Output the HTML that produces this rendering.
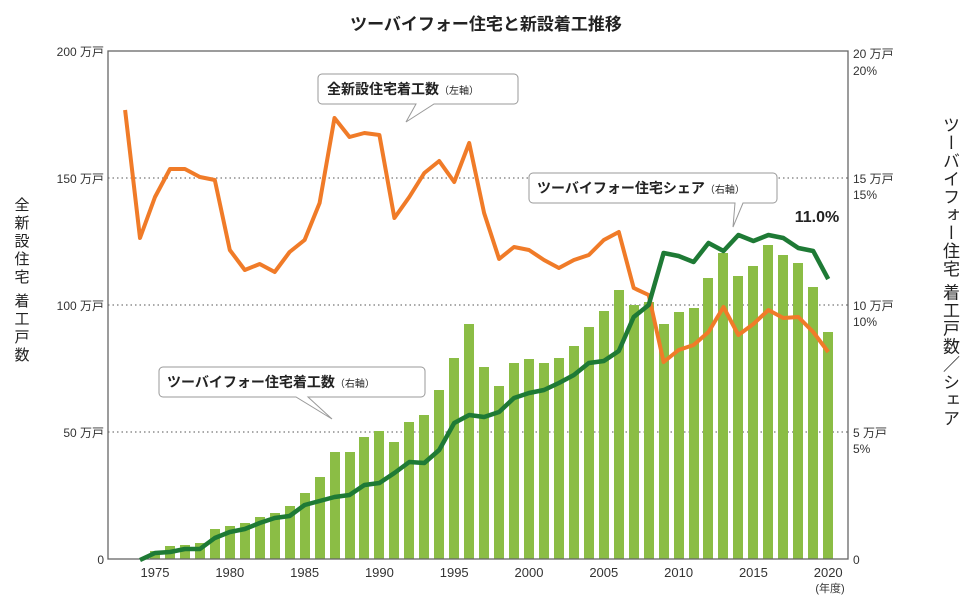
<!DOCTYPE html>
<html><head><meta charset="utf-8"><style>
html,body{margin:0;padding:0;background:#fff;}
body{position:relative;width:972px;height:598px;overflow:hidden;}
svg{display:block;font-family:"Liberation Sans","Noto Sans CJK JP",sans-serif;}
.vr{position:absolute;left:939px;top:116px;writing-mode:vertical-rl;font-family:"Liberation Sans","Noto Sans CJK JP",sans-serif;font-size:17px;color:#222;letter-spacing:1px;line-height:20px;}
</style></head><body>
<svg width="972" height="598" viewBox="0 0 972 598" xmlns="http://www.w3.org/2000/svg">
<text x="486" y="30" text-anchor="middle" font-size="17" font-weight="bold" fill="#222">ツーバイフォー住宅と新設着工推移</text>
<g stroke="#777" stroke-width="1.3" stroke-dasharray="1.5,3">
<line x1="108" y1="178" x2="848" y2="178"/><line x1="108" y1="305" x2="848" y2="305"/><line x1="108" y1="432" x2="848" y2="432"/>
</g>
<g fill="#8bbd45">
<rect x="150" y="551" width="10" height="8"/><rect x="165" y="546" width="10" height="13"/><rect x="180" y="545" width="10" height="14"/><rect x="195" y="543" width="10" height="16"/><rect x="210" y="529" width="10" height="30"/><rect x="225" y="526" width="10" height="33"/><rect x="240" y="523" width="10" height="36"/><rect x="255" y="517" width="10" height="42"/><rect x="270" y="513" width="10" height="46"/><rect x="285" y="506" width="10" height="53"/><rect x="300" y="493" width="10" height="66"/><rect x="315" y="477" width="10" height="82"/><rect x="330" y="452" width="10" height="107"/><rect x="345" y="452" width="10" height="107"/><rect x="359" y="437" width="10" height="122"/><rect x="374" y="431" width="10" height="128"/><rect x="389" y="442" width="10" height="117"/><rect x="404" y="422" width="10" height="137"/><rect x="419" y="415" width="10" height="144"/><rect x="434" y="390" width="10" height="169"/><rect x="449" y="358" width="10" height="201"/><rect x="464" y="324" width="10" height="235"/><rect x="479" y="367" width="10" height="192"/><rect x="494" y="386" width="10" height="173"/><rect x="509" y="363" width="10" height="196"/><rect x="524" y="359" width="10" height="200"/><rect x="539" y="363" width="10" height="196"/><rect x="554" y="358" width="10" height="201"/><rect x="569" y="346" width="10" height="213"/><rect x="584" y="327" width="10" height="232"/><rect x="599" y="311" width="10" height="248"/><rect x="614" y="290" width="10" height="269"/><rect x="629" y="305" width="10" height="254"/><rect x="644" y="302" width="10" height="257"/><rect x="659" y="324" width="10" height="235"/><rect x="674" y="312" width="10" height="247"/><rect x="689" y="308" width="10" height="251"/><rect x="703" y="278" width="10" height="281"/><rect x="718" y="253" width="10" height="306"/><rect x="733" y="276" width="10" height="283"/><rect x="748" y="266" width="10" height="293"/><rect x="763" y="245" width="10" height="314"/><rect x="778" y="255" width="10" height="304"/><rect x="793" y="263" width="10" height="296"/><rect x="808" y="287" width="10" height="272"/><rect x="823" y="332" width="10" height="227"/>
</g>
<rect x="108" y="51" width="740" height="508" fill="none" stroke="#666" stroke-width="1.3"/>
<polyline fill="none" stroke="#f07b28" stroke-width="4" stroke-linejoin="round" points="125.1,110 140,238 155,197 170,169 184.9,169 199.9,177 214.8,180 229.8,250 244.8,270 259.7,264 274.7,272 289.6,252 304.6,240 319.6,203 334.5,118 349.5,137 364.4,133 379.4,135 394.4,218 409.3,197 424.3,173 439.2,161 454.2,182 469.2,143 484.1,213 499.1,259 514,247 529,250 544,260 558.9,268 573.9,260 588.8,255 603.8,240 618.8,232 633.7,288 648.7,295 663.6,362 678.6,350 693.6,345 708.5,332 723.5,307 738.4,335 753.4,324 768.4,310 783.3,318 798.3,317 813.2,332 828.2,352"/>
<polyline fill="none" stroke="#1e7a35" stroke-width="4.5" stroke-linejoin="round" points="140,560 155,553 170,552 184.9,549 199.9,549 214.8,538 229.8,532 244.8,529 259.7,523 274.7,518 289.6,516 304.6,505 319.6,501 334.5,497 349.5,495 364.4,485 379.4,483 394.4,473 409.3,462 424.3,463 439.2,450 454.2,423 469.2,415 484.1,417 499.1,412 514,398 529,393 544,390 558.9,383 573.9,375 588.8,363 603.8,361 618.8,351 633.7,317 648.7,305 663.6,253 678.6,256 693.6,262 708.5,243 723.5,251 738.4,235 753.4,241 768.4,235 783.3,238 798.3,248 813.2,251 828.2,279"/>
<g font-size="12" fill="#333" text-anchor="end">
<text x="104" y="56">200 万戸</text><text x="104" y="183">150 万戸</text><text x="104" y="310">100 万戸</text><text x="104" y="437">50 万戸</text><text x="104" y="564">0</text>
</g>
<g font-size="12" fill="#333">
<text x="853" y="58">20 万戸</text><text x="853" y="75">20%</text>
<text x="853" y="183">15 万戸</text><text x="853" y="199">15%</text>
<text x="853" y="310">10 万戸</text><text x="853" y="326">10%</text>
<text x="853" y="437">5 万戸</text><text x="853" y="453">5%</text>
<text x="853" y="564">0</text>
</g>
<g font-size="13" fill="#333" text-anchor="middle">
<text x="155" y="577">1975</text><text x="229.8" y="577">1980</text><text x="304.6" y="577">1985</text><text x="379.4" y="577">1990</text><text x="454.2" y="577">1995</text><text x="529" y="577">2000</text><text x="603.8" y="577">2005</text><text x="678.6" y="577">2010</text><text x="753.4" y="577">2015</text><text x="828.2" y="577">2020</text>
<text x="830" y="592" font-size="11">(年度)</text>
</g>
<text x="817" y="222" font-size="16" fill="#222" text-anchor="middle" font-weight="bold">11.0%</text>
<g font-size="15" fill="#222" text-anchor="middle">
<text x="22" y="210">全</text><text x="22" y="228">新</text><text x="22" y="246">設</text><text x="22" y="264">住</text><text x="22" y="282">宅</text>
<text x="22" y="306">着</text><text x="22" y="324">工</text><text x="22" y="342">戸</text><text x="22" y="360">数</text>
</g>
<g fill="#fff" stroke="#999" stroke-width="1">
<path d="M322,74 h192 a4,4 0 0 1 4,4 v22 a4,4 0 0 1 -4,4 h-80 l-28,18 l10,-18 h-94 a4,4 0 0 1 -4,-4 v-22 a4,4 0 0 1 4,-4z"/>
<path d="M533,173 h240 a4,4 0 0 1 4,4 v22 a4,4 0 0 1 -4,4 h-30 l-10,24 l2,-24 h-202 a4,4 0 0 1 -4,-4 v-22 a4,4 0 0 1 4,-4z"/>
<path d="M163,367 h258 a4,4 0 0 1 4,4 v22 a4,4 0 0 1 -4,4 h-113 l24,22 l-36,-22 h-133 a4,4 0 0 1 -4,-4 v-22 a4,4 0 0 1 4,-4z"/>
</g>
<g font-size="14" font-weight="bold" fill="#222">
<text x="327" y="94">全新設住宅着工数<tspan font-size="10" font-weight="normal">（左軸）</tspan></text>
<text x="537" y="193">ツーバイフォー住宅シェア<tspan font-size="10" font-weight="normal">（右軸）</tspan></text>
<text x="167" y="387">ツーバイフォー住宅着工数<tspan font-size="10" font-weight="normal">（右軸）</tspan></text>
</g>
</svg>
<div class="vr">ツーバイフォー住宅 着工戸数／シェア</div>
</body></html>
